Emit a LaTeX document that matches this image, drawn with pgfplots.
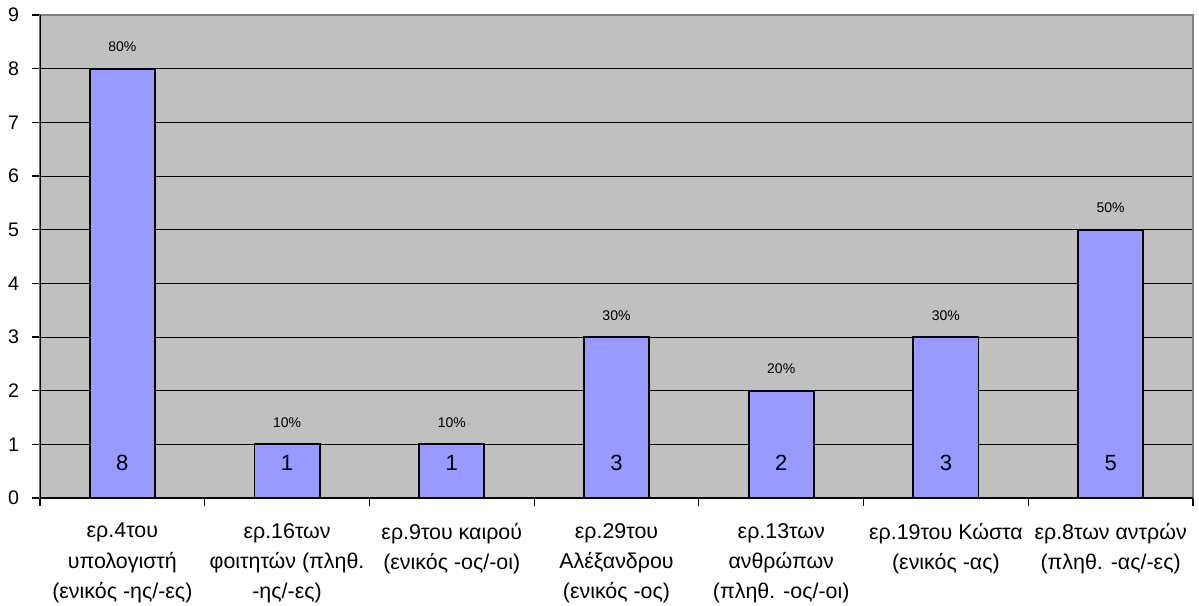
\documentclass[border=0pt]{standalone}
\usepackage{fontspec}
\setmainfont{Liberation Sans}
\usepackage{pgfplots}
\pgfplotsset{compat=1.18}
\usepackage{pgfplotstable}

\definecolor{plotbg}{HTML}{C0C0C0}
\definecolor{barfill}{HTML}{9999FF}
\definecolor{framegray}{HTML}{808080}

% number of answers per question
\pgfplotstableread{
x y
0 8
1 1
2 1
3 3
4 2
5 3
6 5
}\answers

\begin{document}
\begin{tikzpicture}
\path[use as bounding box] (-20pt,-53.5pt) rectangle (579.5pt,249pt);
\begin{axis}[
  at={(0,0)}, anchor=south west,
  scale only axis, width=576.5pt, height=241.5pt,
  xmin=-0.5, xmax=6.5, ymin=0, ymax=9,
  ytick={0,...,9},
  xtick={0,...,6},
  xticklabels={
    {ερ.4του\\υπολογιστή\\(ενικός -ης/-ες)},
    {ερ.16των\\φοιτητών (πληθ.\\-ης/-ες)},
    {ερ.9του καιρού\\(ενικός -ος/-οι)},
    {ερ.29του\\Αλέξανδρου\\(ενικός -ος)},
    {ερ.13των\\ανθρώπων\\(πληθ. -ος/-οι)},
    {ερ.19του Κώστα\\(ενικός -ας)},
    {ερ.8των αντρών\\(πληθ. -ας/-ες)}},
  minor xtick={-0.5,0.5,...,6.5},
  tick align=outside, tick pos=left,
  major tick length=4pt, minor tick length=4pt,
  tick style={black, line width=0.6pt},
  major x tick style={draw=none},
  ymajorgrids, grid style={black, line width=0.5pt},
  axis background/.style={fill=plotbg},
  axis line style={draw=framegray, line width=1.2pt},
  /pgf/number format/assume math mode=true,
  yticklabel style={font=\fontsize{9.8}{10}\selectfont, xshift=-3pt},
  xticklabel style={font=\fontsize{10.7}{15.2}\selectfont, align=center, anchor=north, yshift=-5pt},
]
\addplot[ybar, bar width=0.395, fill=barfill, draw=black, line width=0.9pt,
  point meta={10*\thisrow{y}},
  nodes near coords={\pgfmathprintnumber{\pgfplotspointmeta}\%},
  every node near coord/.append style={font=\fontsize{7}{8}\selectfont, anchor=south, yshift=4.5pt, black}]
  table[x=x, y=y]{\answers};
\addplot[only marks, mark=*, mark size=0pt, mark options={draw=none, fill=none},
  point meta=\thisrow{y},
  nodes near coords,
  every node near coord/.append style={font=\fontsize{11}{12}\selectfont, anchor=center, yshift=17.5pt, black}]
  table[x=x, y expr=0]{\answers};
\draw[black, line width=1.2pt] (rel axis cs:0,1) -- (rel axis cs:0,0) -- (rel axis cs:1,0);
\end{axis}
\end{tikzpicture}
\end{document}
